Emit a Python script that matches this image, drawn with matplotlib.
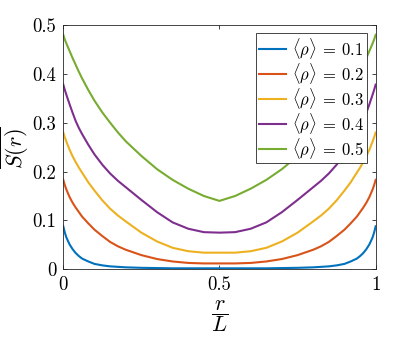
import matplotlib
matplotlib.use("Agg")
import matplotlib.pyplot as plt

plt.rcParams['font.family'] = 'serif'
plt.rcParams['font.serif'] = ['cmr10']
plt.rcParams['mathtext.fontset'] = 'cm'
plt.rcParams['axes.formatter.use_mathtext'] = True

# posiciones r/L
r = [0, 0.005, 0.01, 0.02, 0.03, 0.04, 0.05, 0.06, 0.08, 0.1, 0.125, 0.15, 0.175, 0.2, 0.25,
     0.3, 0.35, 0.4, 0.45, 0.5,
     0.55, 0.6, 0.65, 0.7, 0.75, 0.8, 0.825, 0.85, 0.875, 0.9, 0.92, 0.94, 0.95, 0.96,
     0.97, 0.98, 0.99, 0.995, 1]

s_01 = [0.088, 0.075, 0.065, 0.051, 0.041, 0.033, 0.027, 0.022, 0.016, 0.011, 0.008, 0.006, 0.005, 0.004, 0.003,
        0.0025, 0.002, 0.002, 0.002, 0.002,
        0.002, 0.002, 0.002, 0.0025, 0.003, 0.004, 0.005, 0.006, 0.008, 0.011, 0.016, 0.022, 0.027, 0.033,
        0.041, 0.051, 0.065, 0.075, 0.088]
s_02 = [0.183, 0.172, 0.163, 0.148, 0.136, 0.126, 0.117, 0.108, 0.094, 0.081, 0.068, 0.056, 0.047, 0.040, 0.029,
        0.021, 0.016, 0.013, 0.012, 0.012,
        0.012, 0.013, 0.016, 0.021, 0.029, 0.040, 0.047, 0.056, 0.068, 0.081, 0.094, 0.108, 0.117, 0.126,
        0.136, 0.148, 0.163, 0.172, 0.183]
s_03 = [0.280, 0.270, 0.261, 0.245, 0.231, 0.219, 0.208, 0.198, 0.178, 0.161, 0.141, 0.124, 0.110, 0.098, 0.075,
        0.057, 0.044, 0.037, 0.034, 0.034,
        0.034, 0.037, 0.044, 0.057, 0.075, 0.098, 0.110, 0.124, 0.141, 0.161, 0.178, 0.198, 0.208, 0.219,
        0.231, 0.245, 0.261, 0.270, 0.280]
s_04 = [0.378, 0.367, 0.357, 0.338, 0.320, 0.303, 0.289, 0.277, 0.255, 0.235, 0.214, 0.196, 0.181, 0.168, 0.142,
        0.117, 0.096, 0.083, 0.076, 0.075,
        0.076, 0.083, 0.096, 0.117, 0.142, 0.168, 0.181, 0.196, 0.214, 0.235, 0.255, 0.277, 0.289, 0.303,
        0.320, 0.338, 0.357, 0.367, 0.378]
s_05 = [0.480, 0.470, 0.462, 0.447, 0.432, 0.418, 0.404, 0.391, 0.367, 0.345, 0.321, 0.300, 0.280, 0.262, 0.232,
        0.205, 0.183, 0.165, 0.150, 0.140,
        0.150, 0.165, 0.183, 0.205, 0.232, 0.262, 0.280, 0.300, 0.321, 0.345, 0.367, 0.391, 0.404, 0.418,
        0.432, 0.447, 0.462, 0.470, 0.480]

series = [s_01, s_02, s_03, s_04, s_05]
labels = [r'$\langle\rho\rangle\:=\:0.1$', r'$\langle\rho\rangle\:=\:0.2$', r'$\langle\rho\rangle\:=\:0.3$',
          r'$\langle\rho\rangle\:=\:0.4$', r'$\langle\rho\rangle\:=\:0.5$']
colores = ['#0072BD', '#D95319', '#EDB120', '#7E2F8E', '#77AC30']

fig = plt.figure(figsize=(4.15, 3.41), dpi=100)
ax = fig.add_axes([0.1525, 0.2103, 0.7527, 0.7164])

for s, lab, c in zip(series, labels, colores):
    ax.plot(r, s, color=c, lw=1.5, label=lab)

ax.set_xlim(0, 1)
ax.set_ylim(0, 0.5)
ax.set_xticks([0, 0.5, 1])
ax.set_xticklabels(['0', '0.5', '1'])
ax.set_yticks([0, 0.1, 0.2, 0.3, 0.4, 0.5])
ax.set_yticklabels(['0', '0.1', '0.2', '0.3', '0.4', '0.5'])
ax.tick_params(direction='in', top=True, right=True, labelsize=13.5, length=3,
               color='#262626', width=0.6, pad=5)
for sp in ax.spines.values():
    sp.set_color('#262626')
    sp.set_linewidth(0.6)

ax.set_xlabel(r'$\dfrac{r}{L}$', fontsize=16, labelpad=3)
ax.set_ylabel(r'$\overline{S(r)}$', fontsize=16, labelpad=1)

leg = ax.legend(loc='upper right', fontsize=12, fancybox=False, framealpha=1,
                edgecolor='#262626', handlelength=1.65, handletextpad=0.35,
                borderpad=0.15, labelspacing=0.0, borderaxespad=0.5)
leg.get_frame().set_linewidth(0.6)

plt.savefig('out.png', dpi=100)
